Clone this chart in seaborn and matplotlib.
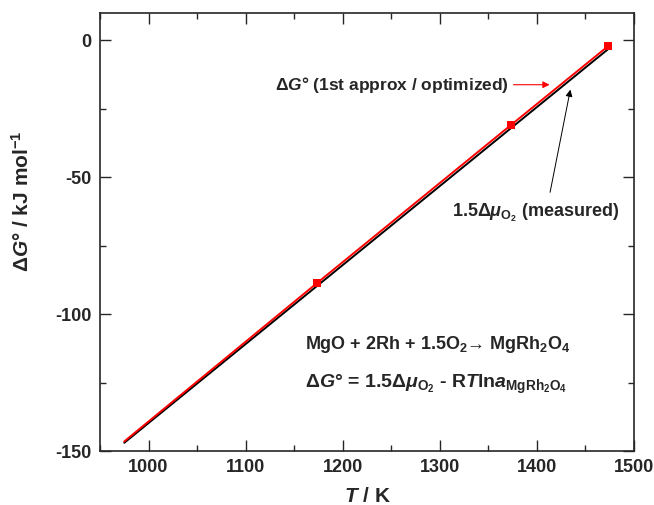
import numpy as np
import pandas as pd
import matplotlib
matplotlib.use("Agg")
import matplotlib.pyplot as plt
import seaborn as sns
from matplotlib.ticker import MultipleLocator

# values
t_calc = [975, 1173, 1373, 1473]          # K, 1st approx / optimized
dg_calc = [-146.5, -88.8, -31.0, -2.2]    # kJ/mol
t_pts = [1173, 1373, 1473]                # marked points
dg_pts = [-88.8, -31.0, -2.2]
t_meas = [975, 1473]                      # 1.5 dmu_O2 measured
dg_meas = [-147.0, -3.3]

sns.set_style("ticks")
plt.rcParams['font.family'] = ['Liberation Sans', 'DejaVu Sans']
plt.rcParams['font.weight'] = 'bold'
plt.rcParams['axes.unicode_minus'] = False
plt.rcParams['mathtext.fontset'] = 'custom'
plt.rcParams['mathtext.rm'] = 'Liberation Sans:bold'
plt.rcParams['mathtext.it'] = 'Liberation Sans:italic:bold'
plt.rcParams['mathtext.bf'] = 'Liberation Sans:bold'
plt.rcParams['mathtext.default'] = 'rm'

calc = pd.DataFrame({'T': t_calc, 'dG': dg_calc})
pts = pd.DataFrame({'T': t_pts, 'dG': dg_pts})
meas = pd.DataFrame({'T': t_meas, 'dG': dg_meas})

fig = plt.figure(figsize=(6.54, 5.05), dpi=100)
ax = fig.add_axes([100/654, 1 - 451/505, 534/654, 438/505])

sns.lineplot(data=meas, x='T', y='dG', color='black', lw=1.4, ax=ax)
sns.lineplot(data=calc, x='T', y='dG', color='#ff0000', lw=1.4, ax=ax)
sns.scatterplot(data=pts, x='T', y='dG', color='#ff0000', marker='s', s=36,
                edgecolor='#ff0000', linewidth=0, ax=ax, zorder=5)

ax.set_xlim(950, 1500)
ax.set_ylim(-150, 10)
ax.xaxis.set_major_locator(MultipleLocator(100))
ax.xaxis.set_minor_locator(MultipleLocator(50))
ax.yaxis.set_major_locator(MultipleLocator(50))
ax.yaxis.set_minor_locator(MultipleLocator(25))
ax.tick_params(which='both', direction='in', top=True, right=True,
               labelsize=13, width=1.0, pad=6)
ax.tick_params(which='major', length=8)
ax.tick_params(which='minor', length=4)
for lab in ax.get_xticklabels() + ax.get_yticklabels():
    lab.set_fontweight('bold')
for sp in ax.spines.values():
    sp.set_linewidth(1.2)

ax.set_xlabel(r'$\mathit{T}$ / K', fontsize=15, fontweight='bold', labelpad=8)
ax.set_ylabel(r'Δ$\mathit{G}$° / kJ mol$^{-1}$', fontsize=15, fontweight='bold', labelpad=4)
ax.yaxis.set_label_coords(-0.125, 0.57)

# red arrow to the calculated line
ax.annotate('', xy=(1416, -16.2), xytext=(1373, -16.2),
            arrowprops=dict(arrowstyle='-|>', color='#ff0000', lw=0.8,
                            mutation_scale=10))
ax.text(1371, -16.2, r'Δ$\mathit{G}$° (1st approx / optimized)', fontsize=12.5,
        ha='right', va='center')

# black arrow to the measured line
ax.annotate('', xy=(1435, -17.0), xytext=(1413, -56.5),
            arrowprops=dict(arrowstyle='-|>', color='black', lw=0.7,
                            mutation_scale=10))
ax.text(1399, -63, r'1.5Δ$\mathit{\mu}_{\mathrm{O_2}}$ (measured)', fontsize=13,
        ha='center', va='center')

ax.text(1161, -111, r'MgO + 2Rh + 1.5O$_2$→ MgRh$_2$O$_4$', fontsize=13,
        ha='left', va='center')
ax.text(1161, -125.5, r'Δ$\mathit{G}$° = 1.5Δ$\mathit{\mu}_{\mathrm{O_2}}$ - R$\mathit{T}$ln$\mathit{a}_{\mathrm{MgRh_2O_4}}$',
        fontsize=14, ha='left', va='center')

fig.savefig('out.png', dpi=100)
